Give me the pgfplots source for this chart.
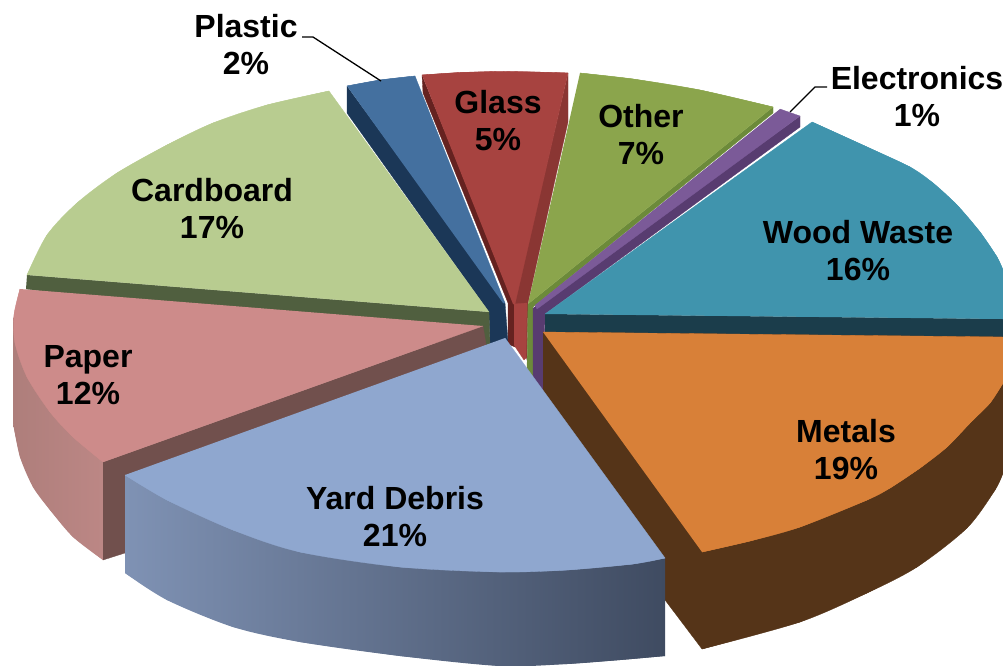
\documentclass[border=0pt]{standalone}
\usepackage{fontspec}
\setmainfont{Liberation Sans}
\usepackage{pgfplots}
\pgfplotsset{compat=1.18}
\definecolor{cardTop}{HTML}{B8CC90}\definecolor{cardSide}{HTML}{505F3F}
\definecolor{plasTop}{HTML}{44709F}\definecolor{plasSide}{HTML}{1B3757}
\definecolor{glasTop}{HTML}{A74340}\definecolor{glasLeft}{HTML}{652220}\definecolor{glasRight}{HTML}{8A3633}
\definecolor{othTop}{HTML}{8BA54C}\definecolor{othSide}{HTML}{6C8A3A}
\definecolor{elecTop}{HTML}{7B5A98}\definecolor{elecSide}{HTML}{583C70}
\definecolor{woodTop}{HTML}{4094AD}\definecolor{woodSide}{HTML}{1B3D4B}
\definecolor{metTop}{HTML}{D88038}\definecolor{metSide}{HTML}{553418}
\definecolor{papTop}{HTML}{CD8B8A}\definecolor{papSide}{HTML}{71504D}
\definecolor{papOutA}{HTML}{AE7E7B}\definecolor{papOutB}{HTML}{BC8785}
\definecolor{yardTop}{HTML}{8FA7CF}\definecolor{yardA}{HTML}{7F92B4}\definecolor{yardB}{HTML}{3F4B61}
\pgfplotsset{
  face/.style={fill=#1, draw=#1, line width=0.3pt},
  rim/.style={smooth, fill=#1, draw=#1, line width=0.3pt},
}
\newcommand{\lab}[3]{\node[align=center, inner sep=0pt, font=\bfseries\fontsize{32}{37}\selectfont] at (axis cs:#1,#2) {#3};}
\begin{document}
\begin{tikzpicture}
\useasboundingbox (0,0) rectangle (1003pt,665pt);
\begin{axis}[
  at={(0,0)}, anchor=south west,
  scale only axis, width=1003pt, height=665pt,
  xmin=0, xmax=1003, ymin=0, ymax=665, y dir=reverse,
  hide axis,
]
% Plastic, 2%
\addplot[face=plasSide] coordinates {(347,86)(347,113)(489,312)(490,346)(508,342)(505,303)};
\addplot[rim=plasTop] coordinates {(347,86)(380,80)(415,76)};
\addplot[face=plasTop] coordinates {(347,86)(380,80)(415,76)(505,303)(503,303)};
% Glass, 5%
\addplot[face=glasLeft] coordinates {(422,75)(423,93)(508,303)(508,344)(515,347)(515,305)};
\addplot[face=glasRight] coordinates {(568,73)(568,122)(555,180)(528,303)(527,360)(514,304)};
\addplot[face=glasTop] coordinates {(514,304)(527,303)(526,358)(524,360)(514,345)};
\addplot[rim=glasTop] coordinates {(422,75)(460,72.5)(500,71.5)(535,72)(568,73)};
\addplot[face=glasTop] coordinates {(422,75)(460,72.5)(500,71.5)(535,72)(568,73)(515,304)(513,304)};
% Other, 7%
\addplot[face=othSide] coordinates {(773,107)(773,113)(533,307)(533,382)(527,372)(528,304)};
\addplot[rim=othTop] coordinates {(580,73)(633,79)(700,90)(773,107)};
\addplot[face=othTop] coordinates {(580,73)(633,79)(700,90)(773,107)(528,304)};
% Electronics, 1%
\addplot[face=elecSide] coordinates {(800,116)(800,127)(545,314)(543,395)(533,382)(533,308)};
\addplot[face=elecTop] coordinates {(780,109)(800,116)(537,309)(535,305)};
% Wood Waste, 16%
\addplot[face=woodSide] coordinates {(545,314)(1003,319)(1003,339)(545,335)};
\addplot[rim=woodTop] coordinates {(812,122)(867,147)(910,167)(933,183)(957,205)(980,232)(997,257)(1003,270)};
\addplot[face=woodTop] coordinates {(545,314)(812,122)(867,147)(910,167)(933,183)(957,205)(980,232)(997,257)(1003,270)(1003,319)};
% Cardboard, 17%
\addplot[face=cardSide] coordinates {(27,275)(489,312)(490,346)(483,349)(26,289)};
\addplot[rim=cardTop] coordinates {(329,91)(267,105)(213,123)(167,145)(117,173)(77,203)(47,235)(27,275)};
\addplot[face=cardTop] coordinates {(27,275)(47,235)(77,203)(117,173)(167,145)(213,123)(267,105)(329,91)(489,312)};
% Metals, 19%
\addplot[rim=metSide] coordinates {(1003,473)(995,490)(967,528)(917,567)(867,593)(800,622)(702,649)};
\addplot[face=metSide] coordinates {(543,332)(1003,337)(1003,473)(995,490)(967,528)(917,567)(867,593)(800,622)(702,649)(665,600)(660,565)(543,395)};
\addplot[rim=metTop] coordinates {(1003,383)(990,403)(970,423)(947,447)(920,468)(890,488)(867,500)(800,527)(750,541)(702,552)};
\addplot[face=metTop] coordinates {(543,332)(1003,337)(1003,383)(990,403)(970,423)(947,447)(920,468)(890,488)(867,500)(800,527)(750,541)(702,552)};
% Paper, 12%
\addplot[smooth, draw=none, left color=papOutA, right color=papOutB] coordinates {(13,423)(20,457)(33,487)(50,510)(73,537)(103,560)};
\addplot[draw=none, left color=papOutA, right color=papOutB] coordinates {(13,317)(13,423)(20,457)(33,487)(50,510)(73,537)(103,560)(103,462)};
\addplot[face=papSide] coordinates {(103,462)(483,326)(487,350)(125,480)(125,553)(103,560)};
\addplot[rim=papTop] coordinates {(20,289)(14,315)(15,343)(27,377)(50,412)(73,437)(103,462)};
\addplot[face=papTop] coordinates {(20,289)(14,315)(15,343)(27,377)(50,412)(73,437)(103,462)(483,326)};
% Yard Debris, 21%
\addplot[smooth, draw=none, left color=yardA, right color=yardB] coordinates {(125,573)(167,600)(233,627)(300,642)(400,656)(500,666)(567,664)(620,660)(665,656)};
\addplot[draw=none, left color=yardA, right color=yardB] coordinates {(125,475)(125,573)(167,600)(233,627)(300,642)(400,656)(500,666)(567,664)(620,660)(665,656)(665,558)};
\addplot[rim=yardTop] coordinates {(125,475)(167,500)(233,530)(300,552)(400,567)(500,572)(567,570)(633,564)(665,558)};
\addplot[face=yardTop] coordinates {(125,475)(167,500)(233,530)(300,552)(400,567)(500,572)(567,570)(633,564)(665,558)(505,338)};
% Leader lines
\addplot[black, line width=1.3pt] coordinates {(302,37)(313,37)(381,81)};
\addplot[black, line width=1.3pt] coordinates {(827,87)(815,87)(790,112)};
% Labels
\lab{246}{45}{Plastic\\2\%}
\lab{917}{97}{Electronics\\1\%}
\lab{498}{121}{Glass\\5\%}
\lab{641}{135}{Other\\7\%}
\lab{858}{251}{Wood Waste\\16\%}
\lab{212}{209}{Cardboard\\17\%}
\lab{88}{375}{Paper\\12\%}
\lab{846}{450}{Metals\\19\%}
\lab{395}{517}{Yard Debris\\21\%}
\end{axis}
\end{tikzpicture}
\end{document}
